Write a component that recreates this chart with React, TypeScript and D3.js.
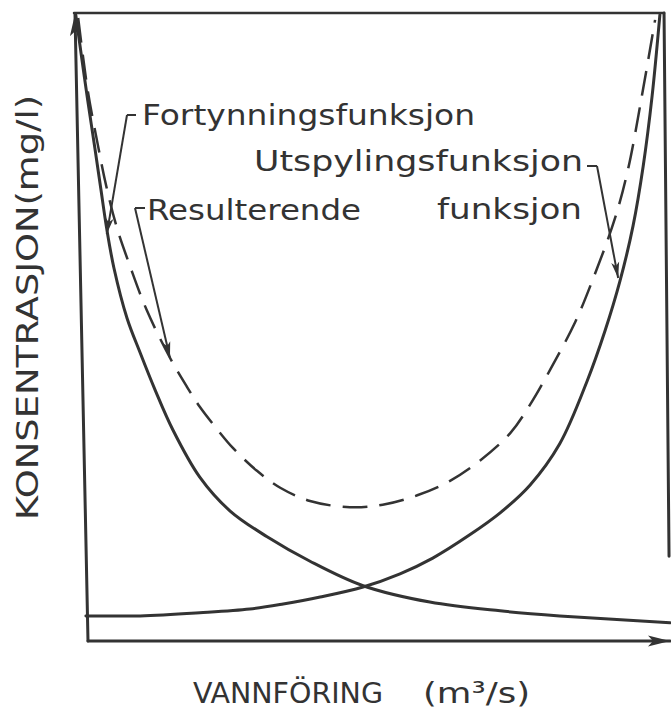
import React from "react";
import * as d3 from "d3";

// discharge (Q, relative 0-100) and concentration (C, relative 0-100)
const fortynningQ = [0.3, 1.3, 2.3, 3.5, 4.5, 5.5, 6.7, 8.9, 11.1, 13.6, 16.6, 21.1, 26.2, 32.4, 39.6, 48.5, 59.7, 71.5, 81.5, 100];
const fortynningC = [99.7, 92.8, 86.1, 78.5, 72.0, 65.6, 59.4, 51.4, 45.9, 40.0, 33.6, 26.1, 20.7, 16.6, 12.7, 8.8, 6.2, 4.8, 4.0, 2.9];

const utspylingQ = [2.0, 11.1, 21.1, 29.5, 35.1, 41.3, 48.5, 54.7, 60.2, 66.4, 71.5, 76.5, 81.5, 86.1, 89.1, 91.6, 93.8, 95.5, 97.0, 98.3];
const utspylingC = [4.0, 4.0, 4.5, 5.1, 5.9, 7.0, 8.6, 10.7, 13.2, 16.9, 20.4, 24.8, 31.4, 41.4, 49.4, 57.3, 66.1, 75.6, 86.8, 99.7];

const resultQ = [0.7, 2.3, 4.0, 5.4, 7.2, 9.4, 12.2, 16.1, 19.0, 21.1, 23.7, 26.7, 30.7, 34.6, 39.6, 46.3, 51.8, 57.6, 63.1, 68.1, 73.2, 76.5, 79.9, 84.1, 86.9, 90.8, 93.0, 95.3, 97.5];
const resultC = [99.2, 87.7, 79.0, 72.5, 65.8, 59.7, 52.7, 45.1, 40.4, 37.3, 34.1, 30.7, 27.1, 24.4, 22.3, 21.3, 21.7, 23.2, 25.5, 28.7, 33.1, 37.6, 43.2, 50.8, 57.2, 67.4, 75.3, 86.9, 98.9];

// where each label's leader arrow lands on its curve
const arrowTipQ = [5.5, 16.1, 91.3];
const arrowTipC = [64.8, 45.1, 57.8];

const W = 671;
const H = 711;
const ink = "#333";

const x = d3.scaleLinear().domain([0, 100]).range([74, 670]);
const y = d3.scaleLinear().domain([0, 100]).range([641, 13]);

const line = d3
  .line<[number, number]>()
  .x((d) => x(d[0]))
  .y((d) => y(d[1]))
  .curve(d3.curveCatmullRom.alpha(0.5));

const zip = (a: number[], b: number[]) => a.map((v, i) => [v, b[i]] as [number, number]);

export default function App() {
  const tips = zip(arrowTipQ, arrowTipC).map(([q, c]) => [x(q), y(c)]);
  // label hooks: corner x, corner y, end of the short stub
  const corners = [
    [127, 115, 136],
    [135, 208, 145],
    [597, 166, 587],
  ];
  const labelFont = "'DejaVu Sans', sans-serif";
  const titleFont = "'DejaVu Sans Condensed', 'Liberation Sans Narrow', 'DejaVu Sans', sans-serif";

  return (
    <svg
      width={W}
      height={H}
      style={{ position: "absolute", left: 0, top: 0, background: "#fff" }}
    >
      <defs>
        <marker
          id="ah"
          viewBox="0 0 16 10"
          refX={16}
          refY={5}
          markerWidth={16}
          markerHeight={10}
          markerUnits="userSpaceOnUse"
          orient="auto"
        >
          <path d="M0,1 L16,5 L0,9 L4,5 Z" fill={ink} />
        </marker>
        <marker
          id="axh"
          viewBox="0 0 22 12"
          refX={22}
          refY={6}
          markerWidth={22}
          markerHeight={12}
          markerUnits="userSpaceOnUse"
          orient="auto"
        >
          <path d="M0,0.5 L22,6 L0,11.5 L5,6 Z" fill={ink} />
        </marker>
      </defs>

      {/* frame and axes */}
      <g stroke={ink} fill="none" strokeLinecap="round">
        <line x1={x(0)} y1={y(100)} x2={x(99)} y2={y(100)} strokeWidth={2.5} />
        <line x1={x(99)} y1={y(100)} x2={x(99) + 5} y2={y(13.5)} strokeWidth={3} />
        <line x1={x(0) + 14} y1={y(0)} x2={x(0) + 1} y2={y(100) + 1} strokeWidth={3} markerEnd="url(#axh)" />
        <line x1={x(0) + 14} y1={y(0)} x2={x(100)} y2={y(0)} strokeWidth={3} markerEnd="url(#axh)" />
      </g>

      {/* curves */}
      <g fill="none" stroke={ink} strokeLinecap="round">
        <path d={line(zip(fortynningQ, fortynningC)) || ""} strokeWidth={3} />
        <path d={line(zip(utspylingQ, utspylingC)) || ""} strokeWidth={3} />
        <path d={line(zip(resultQ, resultC)) || ""} strokeWidth={2.5} strokeDasharray="25 12" strokeLinecap="butt" />
      </g>

      {/* leaders */}
      <g fill="none" stroke={ink} strokeWidth={2}>
        {corners.map(([cx, cy, sx], i) => (
          <g key={i}>
            <line x1={sx} y1={cy} x2={cx} y2={cy} />
            <line x1={cx} y1={cy} x2={tips[i][0]} y2={tips[i][1]} markerEnd="url(#ah)" />
          </g>
        ))}
      </g>

      {/* labels */}
      <g fill={ink} fontFamily={labelFont} fontSize={29}>
        <text x={142} y={125} textLength={333} lengthAdjust="spacingAndGlyphs">Fortynningsfunksjon</text>
        <text x={254} y={171} textLength={329} lengthAdjust="spacingAndGlyphs">Utspylingsfunksjon</text>
        <text x={147} y={220} textLength={214} lengthAdjust="spacingAndGlyphs">Resulterende</text>
        <text x={437} y={219} textLength={145} lengthAdjust="spacingAndGlyphs">funksjon</text>
      </g>

      <g fill={ink} fontFamily={titleFont}>
        <text x={193} y={703} fontSize={29} textLength={190} lengthAdjust="spacingAndGlyphs">VANNFÖRING</text>
        <text x={423} y={703} fontSize={29} textLength={107} lengthAdjust="spacingAndGlyphs">(m³/s)</text>
        <text
          transform="translate(38,520) rotate(-90)"
          fontSize={31}
          textLength={425}
          lengthAdjust="spacingAndGlyphs"
        >
          KONSENTRASJON(mg/l)
        </text>
      </g>
    </svg>
  );
}
